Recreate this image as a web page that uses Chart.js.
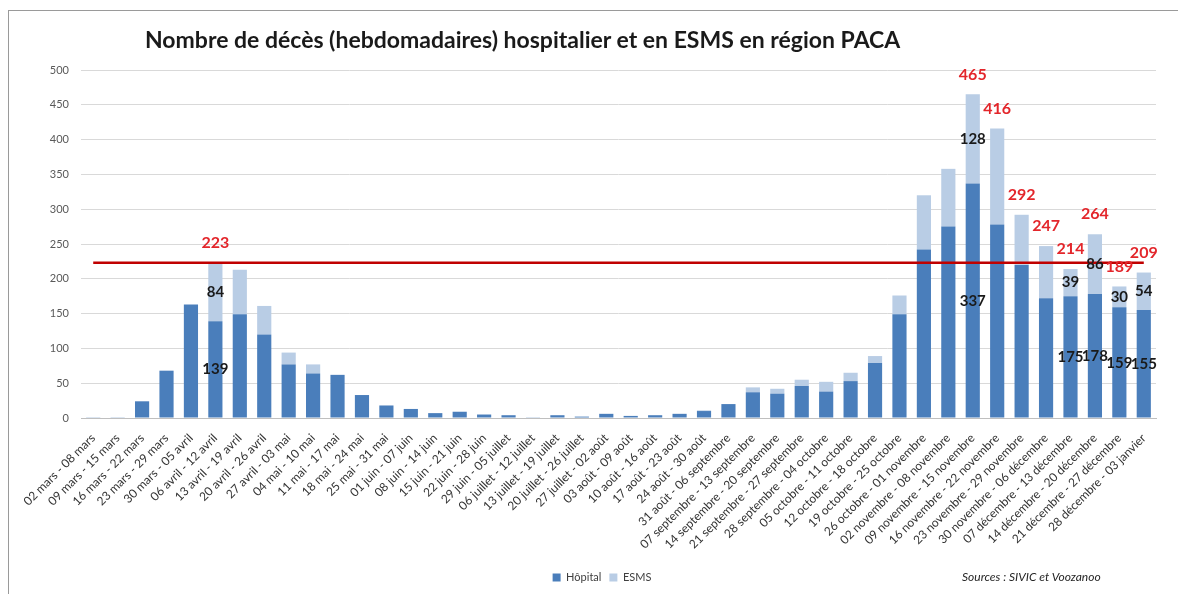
<!DOCTYPE html>
<html lang="fr">
<head>
<meta charset="utf-8">
<title>Décès hebdomadaires PACA</title>
<script src="https://cdn.jsdelivr.net/npm/chart.js@4.4.1/dist/chart.umd.min.js"></script>
<style>
    html, body { margin: 0; padding: 0; background: #fff; }
    body { width: 1178px; height: 594px; position: relative; overflow: hidden; font-family: Lato, 'DejaVu Sans', sans-serif; }
    #frame { position: absolute; left: 8px; top: 10px; width: 1200px; height: 620px; border: 1px solid #9a9a9a; }
    #chartWrap { position: absolute; left: 0; top: 0; width: 1178px; height: 594px; }
    #title { position: absolute; left: 145px; top: 25px; font: bold 23px Lato; color: #1a1a1a; white-space: nowrap; }
    #sources { position: absolute; left: 962px; top: 569px; font: italic 12px Lato; color: #262626; white-space: nowrap; }
</style>
</head>
<body>
<div id="frame"></div>
<div id="chartWrap"><canvas id="chart" width="1178" height="594"></canvas></div>
<div id="title">Nombre de décès (hebdomadaires) hospitalier et en ESMS en région PACA</div>
<div id="sources">Sources : SIVIC et Voozanoo</div>
<script>
// weekly categories
const semaines = [
    '02 mars - 08 mars', '09 mars - 15 mars', '16 mars - 22 mars', '23 mars - 29 mars',
    '30 mars - 05 avril', '06 avril - 12 avril', '13 avril - 19 avril', '20 avril - 26 avril',
    '27 avril - 03 mai', '04 mai - 10 mai', '11 mai - 17 mai', '18 mai - 24 mai',
    '25 mai - 31 mai', '01 juin - 07 juin', '08 juin - 14 juin', '15 juin - 21 juin',
    '22 juin - 28 juin', '29 juin - 05 juillet', '06 juillet - 12 juillet', '13 juillet - 19 juillet',
    '20 juillet - 26 juillet', '27 juillet - 02 août', '03 août - 09 août', '10 août - 16 août',
    '17 août - 23 août', '24 août - 30 août', '31 août - 06 septembre', '07 septembre - 13 septembre',
    '14 septembre - 20 septembre', '21 septembre - 27 septembre', '28 septembre - 04 octobre', '05 octobre - 11 octobre',
    '12 octobre - 18 octobre', '19 octobre - 25 octobre', '26 octobre - 01 novembre', '02 novembre - 08 novembre',
    '09 novembre - 15 novembre', '16 novembre - 22 novembre', '23 novembre - 29 novembre', '30 novembre - 06 décembre',
    '07 décembre - 13 décembre', '14 décembre - 20 décembre', '21 décembre - 27 décembre', '28 décembre - 03 janvier'
];

const hopital = [
    1, 1, 24, 68, 163, 139, 149, 120, 77, 64,
    62, 33, 18, 13, 7, 9, 5, 4, 1, 4,
    2, 6, 3, 4, 6, 10, 20, 37, 35, 46,
    38, 53, 79, 149, 242, 275, 337, 278, 220, 172,
    175, 178, 159, 155
];

const esms = [
    0, 0, 0, 0, 0, 84, 64, 41, 17, 13,
    0, 0, 0, 0, 0, 0, 0, 0, 0, 0,
    0, 0, 0, 0, 0, 1, 0, 7, 7, 9,
    14, 12, 10, 27, 78, 83, 128, 138, 72, 75,
    39, 86, 30, 54
];

// horizontal reference line (peak of the first wave)
const seuil = 223;

// which bars get labels
const totalLabelIdx = [5, 36, 37, 38, 39, 40, 41, 42, 43];
const segmentLabelIdx = [5, 36, 40, 41, 42, 43];

const yMin = 0;
const yMax = 500;
const yStep = 50;

const valueLabels = {
    id: 'valueLabels',
    afterDatasetsDraw(chart) {
        const {ctx, scales: {x, y}} = chart;
        ctx.save();
        ctx.textAlign = 'center';
        ctx.textBaseline = 'middle';

        ctx.font = 'bold 15px Lato';
        ctx.fillStyle = '#1a1a1a';
        for (const i of segmentLabelIdx) {
            const cx = x.getPixelForValue(i);
            ctx.fillText(String(hopital[i]), cx, y.getPixelForValue(hopital[i] / 2));
            ctx.fillText(String(esms[i]), cx, y.getPixelForValue(hopital[i] + esms[i] / 2));
        }

        ctx.font = 'bold 16px Lato';
        ctx.fillStyle = '#e3262b';
        for (const i of totalLabelIdx) {
            const total = hopital[i] + esms[i];
            ctx.fillText(String(total), x.getPixelForValue(i), y.getPixelForValue(total) - 20);
        }
        ctx.restore();
    }
};

const chart = new Chart(document.getElementById('chart'), {
    type: 'bar',
    data: {
        labels: semaines,
        datasets: [
            {
                type: 'line',
                label: 'Seuil',
                data: semaines.map(() => seuil),
                borderColor: '#c00000',
                borderWidth: 2.5,
                pointRadius: 0,
                stack: 'seuil',
                order: 0
            },
            {
                label: 'Hôpital',
                data: hopital,
                backgroundColor: '#4a7ebb',
                stack: 'deces',
                order: 1,
                barPercentage: 0.58,
                categoryPercentage: 1
            },
            {
                label: 'ESMS',
                data: esms,
                backgroundColor: '#b9cde5',
                stack: 'deces',
                order: 1,
                barPercentage: 0.58,
                categoryPercentage: 1
            }
        ]
    },
    options: {
        responsive: false,
        animation: false,
        devicePixelRatio: 1,
        layout: {padding: {left: 48, right: 22, top: 70, bottom: 1}},
        plugins: {
            legend: {
                position: 'bottom',
                labels: {
                    filter: item => item.text !== 'Seuil',
                    boxWidth: 8,
                    boxHeight: 8,
                    padding: 8,
                    color: '#404040',
                    font: {family: 'Lato', size: 11}
                }
            },
            tooltip: {enabled: false}
        },
        scales: {
            x: {
                stacked: true,
                grid: {display: false},
                border: {color: '#bfbfbf'},
                ticks: {
                    autoSkip: false,
                    maxRotation: 45,
                    minRotation: 45,
                    padding: 5,
                    color: '#333333',
                    font: {family: 'Lato', size: 12}
                },
                afterFit: scale => { scale.height = 146; }
            },
            y: {
                stacked: true,
                min: yMin,
                max: yMax,
                ticks: {
                    stepSize: yStep,
                    padding: 12,
                    color: '#595959',
                    font: {family: 'Lato', size: 11}
                },
                grid: {color: '#d9d9d9', drawTicks: false},
                border: {display: false},
                afterFit: scale => { scale.width = 33; }
            }
        }
    },
    plugins: [valueLabels]
});
</script>
</body>
</html>
